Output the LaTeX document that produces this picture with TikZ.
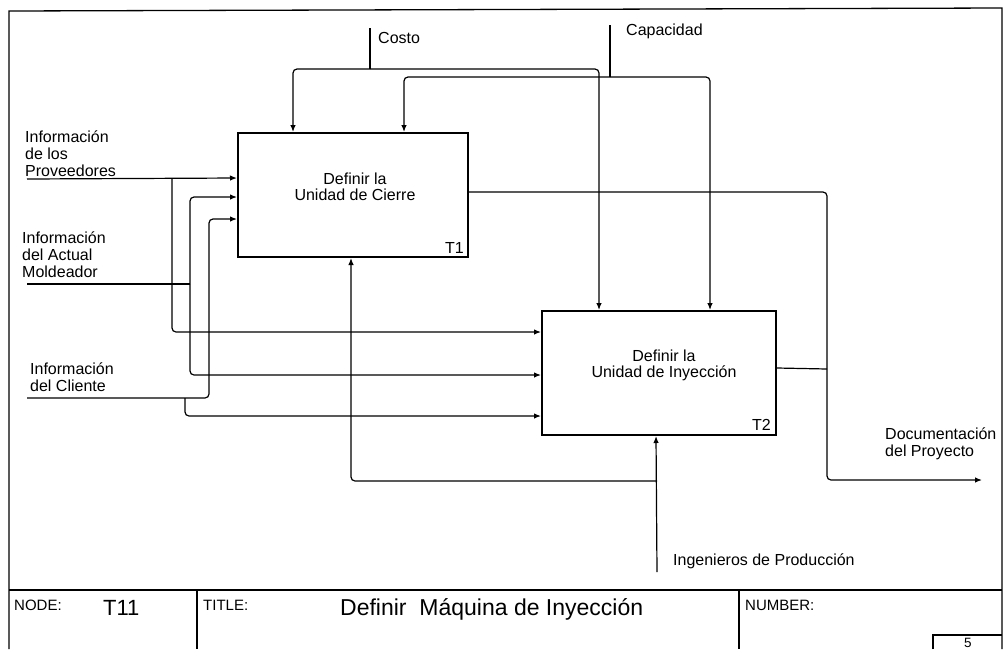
\documentclass[tikz,border=0pt]{standalone}
\usepackage{fontspec}
\setmainfont{Liberation Sans}
\usetikzlibrary{arrows.meta,calc}
\begin{document}
\begin{tikzpicture}[x=1pt,y=-1pt,
  lbl/.style={font=\fontsize{16}{17}\selectfont, align=left, inner sep=0pt, anchor=base west},
  ctr/.style={font=\fontsize{16}{16}\selectfont, align=center, inner sep=0pt, anchor=base},
  fbox/.style={draw, line width=2pt, minimum height=124pt, inner sep=0pt},
  wire/.style={line width=1.2pt, rounded corners=4pt},
  flow/.style={wire, -{Latex[length=7pt,width=5.5pt]}},
  frame/.style={line width=1.3pt}]
\useasboundingbox (0,0) rectangle (1004,649);
% frame and title block
\draw[frame] (9,649) -- (9,11) -- (1002,8) -- (1002,649);
\draw[frame] (9,590) -- (1002,590);
\draw[frame] (197,590) -- (197,649);
\draw[frame] (739,590) -- (739,649);
\draw[frame] (933,649) -- (933,635) -- (1002,635);
\node[lbl, font=\fontsize{15}{15}\selectfont] (nodelbl) at (14,610) {NODE:};
\node[lbl, font=\fontsize{22}{22}\selectfont] (nodeval) at (103,615) {T11};
\node[lbl, font=\fontsize{15}{15}\selectfont] (titlelbl) at (203,610) {TITLE:};
\node[lbl, font=\fontsize{23}{23}\selectfont] (titleval) at (340,615) {Definir~ Máquina de Inyección};
\node[lbl, font=\fontsize{15}{15}\selectfont] (numlbl) at (745,610) {NUMBER:};
\node[lbl, font=\fontsize{13.5}{13.5}\selectfont] (numval) at (964,647) {5};
% boxes
\node[fbox, minimum width=230pt] (T1) at (353,195) {};
\node[fbox, minimum width=234pt] (T2) at (659,373) {};
\node[ctr] (T1txt) at (355,200) {Definir la\\Unidad de Cierre};
\node[ctr] (T2txt) at (664,377) {Definir la\\Unidad de Inyección};
\node[lbl, anchor=base east] (T1id) at (464,253) {T1};
\node[lbl, anchor=base east] (T2id) at (771,430) {T2};
% controls
\coordinate (costo) at (370,28);
\coordinate (cj) at (370,69);
\node[lbl] (costolbl) at (378,43) {Costo};
\draw[wire] (costo) -- (cj);
\draw[flow] (cj) -| ([xshift=56pt]T1.north west);
\draw[flow] (cj) -| ([xshift=58pt]T2.north west);
\coordinate (cap) at (610,25);
\coordinate (capj) at (610,77);
\node[lbl] (caplbl) at (626,35) {Capacidad};
\draw[wire] (cap) -- (capj);
\draw[flow] (capj) -| ([xshift=167pt]T1.north west);
\draw[flow] (capj) -| ([xshift=169pt]T2.north west);
% inputs
\node[lbl] (provlbl) at (25,176) {Información\\de los\\Proveedores};
\coordinate (p0) at (27,179);
\coordinate (pb) at (172,179);
\draw[flow] (p0) -- ([yshift=-46pt]T1.north west);
\draw[flow] (pb) |- ([yshift=-22pt]T2.north west);
\node[lbl] (mollbl) at (22,277) {Información\\del Actual\\Moldeador};
\coordinate (m0) at (27,284);
\coordinate (mb) at (190,284);
\draw[wire] (m0) -- (mb);
\draw[flow] (mb) |- ([yshift=-65pt]T1.north west);
\draw[flow] (mb) |- ([yshift=-65pt]T2.north west);
\node[lbl] (clilbl) at (30,391) {Información\\del Cliente};
\coordinate (c0) at (27,398);
\coordinate (cb) at (209,398);
\coordinate (cb2) at (185,398);
\draw[flow] (c0) -- (cb) |- ([yshift=-87pt]T1.north west);
\draw[flow] (cb2) |- ([yshift=-106pt]T2.north west);
% outputs
\coordinate (oj) at (827,480);
\coordinate (oj2) at (827,369);
\coordinate (docend) at (982,480);
\draw[flow] ([yshift=-60pt]T1.north east) -| (oj) -- (docend);
\draw[wire] ([yshift=-58pt]T2.north east) -- (oj2);
\node[lbl] (doclbl) at (885,456) {Documentación\\del Proyecto};
% mechanism
\coordinate (ing) at (657,572);
\coordinate (mj) at (657,481);
\draw[flow] (ing) -- ([xshift=115pt]T2.south west);
\draw[flow] (mj) -| ([xshift=114pt]T1.south west);
\node[lbl] (inglbl) at (673,565) {Ingenieros de Producción};
\end{tikzpicture}
\end{document}
